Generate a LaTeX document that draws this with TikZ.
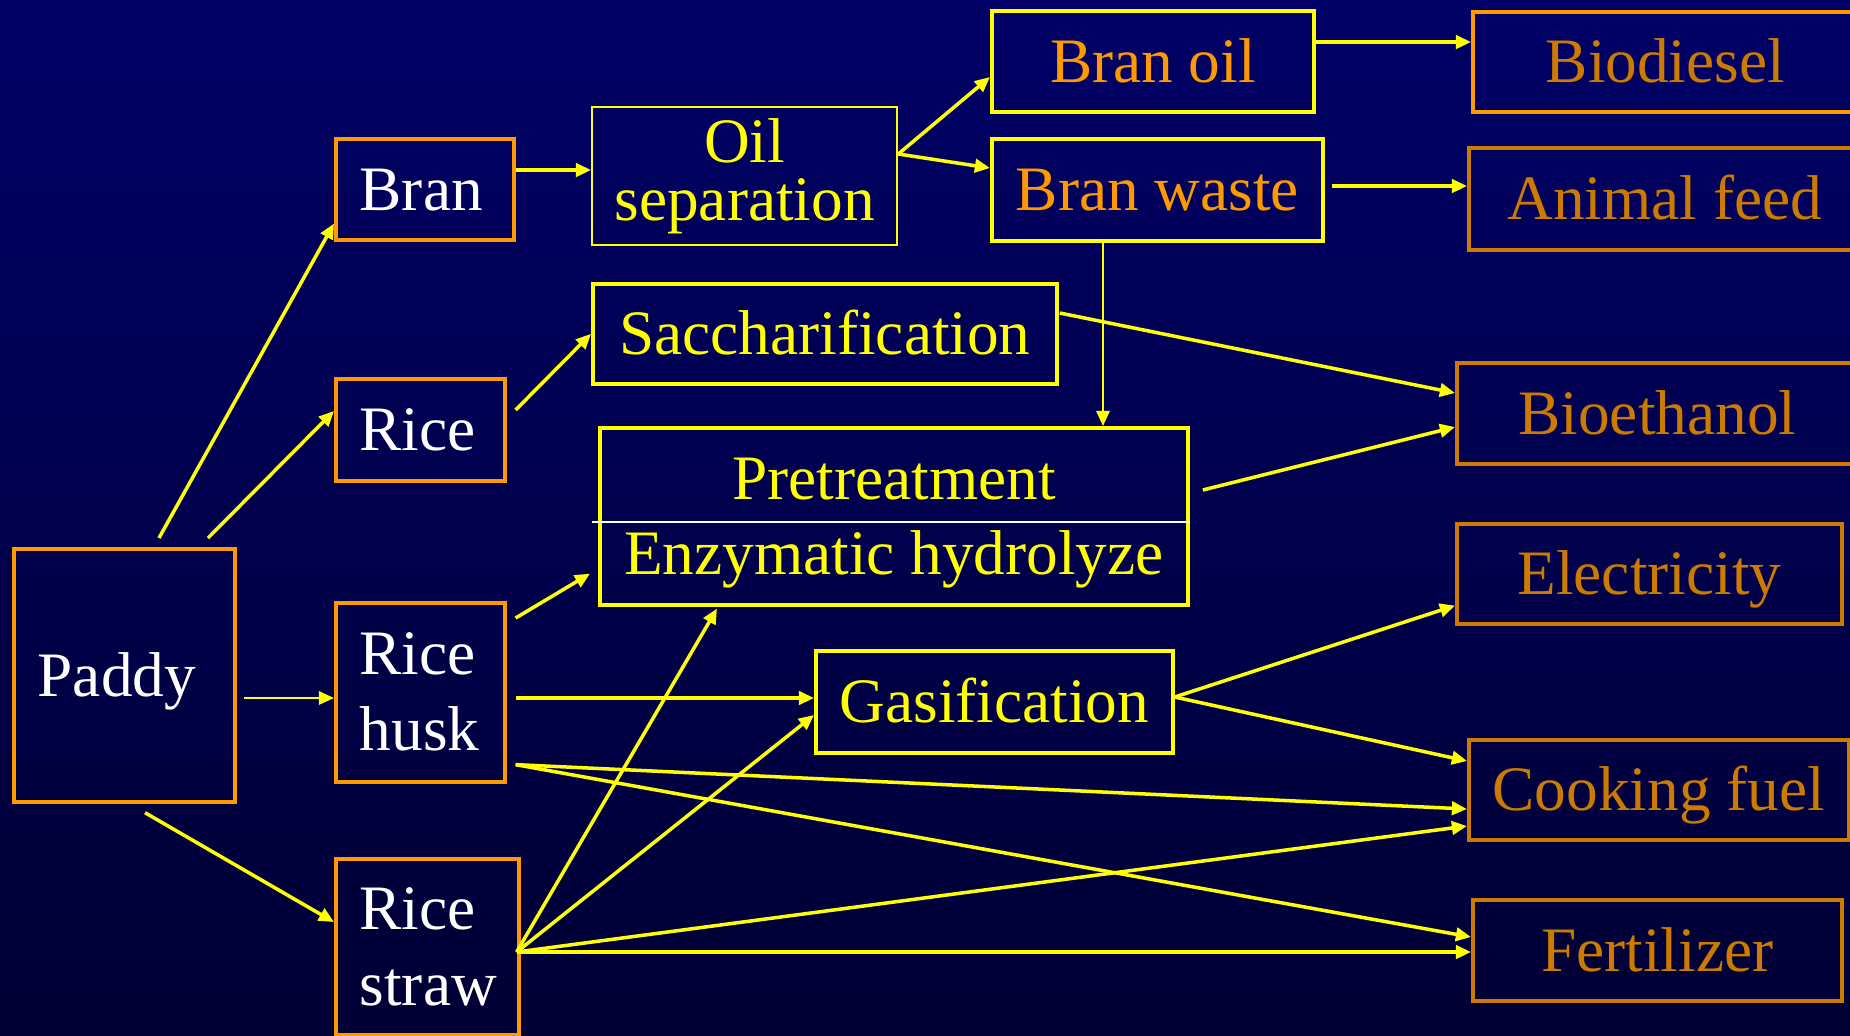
\documentclass[tikz,border=0pt]{standalone}
\usepackage{fontspec}
\setmainfont{Liberation Serif}
\usepackage{tikz}
\usetikzlibrary{calc,arrows.meta}
\definecolor{navytop}{RGB}{0,0,102}
\definecolor{navybot}{RGB}{0,0,52}
\definecolor{yel}{RGB}{255,255,0}
\definecolor{orng}{RGB}{255,153,0}
\definecolor{dorng}{RGB}{204,122,0}
\newcommand{\bigfont}{\fontsize{18}{21.6}\selectfont}
\def\boxline{1pt}
\def\srcsep{0.24cm}

\tikzset{
  box/.style={draw, rectangle, inner sep=0pt, anchor=north west, line width=\boxline, font=\bigfont},
  srcbox/.style={box, draw=orng, text=white, align=left, inner xsep=\srcsep},
  stepbox/.style={box, draw=yel, text=yel, align=center},
  prodbox/.style={box, draw=dorng, text=dorng},
  oneline/.style={text height=0.42cm, text depth=0pt},
  flow/.style={yel, line width=1pt, -{Triangle[length=4.3pt,width=3.8pt]}},
  thinflow/.style={flow, line width=0.6pt}
}

\begin{document}
\begin{tikzpicture}[x=0.01cm,y=-0.01cm]

% BACKGROUND
\useasboundingbox (0,0) rectangle (1850,1035);
\fill[top color=navytop, bottom color=navybot] (0,0) rectangle (1850,1035);

% RAW MATERIALS
\node[srcbox, oneline, text width=1.73cm, minimum width=2.21cm, minimum height=2.53cm] (paddy) at (12,547) {Paddy};
\node[srcbox, oneline, text width=1.30cm, minimum width=1.78cm, minimum height=1.01cm] (bran) at (334,137) {Bran};
\node[srcbox, oneline, text width=1.21cm, minimum width=1.69cm, minimum height=1.02cm] (rice) at (334,377) {Rice};
\node[srcbox, text width=1.21cm, minimum width=1.69cm, minimum height=1.79cm] (husk) at (334,601) {Rice\\husk};
\node[srcbox, text width=1.35cm, minimum width=1.83cm, minimum height=1.76cm] (straw) at (334,857) {Rice\\straw};

% PROCESSES
\node[stepbox, line width=0.6pt, font=\fontsize{18}{16.5}\selectfont, minimum width=3.05cm, minimum height=1.38cm] (oilsep) at (591,106) {Oil\\separation};
\node[stepbox, oneline, minimum width=4.64cm, minimum height=1.00cm] (sacch) at (591,282) {Saccharification};
\node[stepbox, minimum width=5.88cm, minimum height=1.77cm] (pretreat) at (598,426) {\rule{0pt}{0.55cm}Pretreatment\\Enzymatic hydrolyze};
\draw[white, line width=0.7pt] ($(pretreat.north west)+(-6,96)$) -- ($(pretreat.north east)+(0,96)$);
\node[stepbox, oneline, minimum width=3.57cm, minimum height=1.02cm] (gasif) at (814,649) {Gasification};
\node[stepbox, oneline, text=orng, minimum width=3.22cm, minimum height=1.01cm] (branoil) at (990,9) {Bran oil};
\node[stepbox, oneline, text=orng, minimum width=3.31cm, minimum height=1.02cm] (branwaste) at (990,137) {Bran waste};

% PRODUCTS
\node[prodbox, oneline, draw=orng, minimum width=3.85cm, minimum height=1.00cm] (biodiesel) at (1471,10) {Biodiesel};
\node[prodbox, oneline, minimum width=3.92cm, minimum height=1.02cm] (animal) at (1467,146) {Animal feed};
\node[prodbox, oneline, minimum width=4.01cm, minimum height=1.01cm] (bioeth) at (1455,361) {Bioethanol};
\node[prodbox, oneline, minimum width=3.85cm, minimum height=1.00cm] (elec) at (1455,522) {Electricity};
\node[prodbox, oneline, minimum width=3.80cm, minimum height=1.00cm] (cook) at (1467,738) {Cooking fuel};
\node[prodbox, oneline, minimum width=3.69cm, minimum height=1.01cm] (fert) at (1471,898) {Fertilizer};

% PADDY
\draw[flow] ($(paddy.north west)+(147,-9)$) -- ($(bran.south west)+(0,-18)$);
\draw[flow] ($(paddy.north west)+(196,-9)$) -- ($(rice.north west)+(0,34)$);
\draw[thinflow] ($(paddy.north east)+(7,151)$) -- ($(husk.north west)+(0,97)$);
\draw[flow] ($(paddy.south west)+(133,9)$) -- ($(straw.north west)+(0,65)$);

% BRAN AND RICE
\draw[flow] ($(bran.north east)+(0,33)$) -- ($(oilsep.north west)+(0,64)$);
\draw[flow] ($(rice.north east)+(9,33)$) -- (sacch.west);
\draw[flow] ($(oilsep.north east)+(0,48)$) -- ($(branoil.north west)+(0,68)$);
\draw[flow] ($(oilsep.north east)+(0,48)$) -- ($(branwaste.north west)+(0,31)$);
\draw[flow] ($(branoil.north east)+(0,33)$) -- ($(biodiesel.north west)+(0,32)$);
\draw[flow] ($(branwaste.north east)+(7,49)$) -- ($(animal.north west)+(0,40)$);
\draw[thinflow] ($(branwaste.south west)+(113,-4)$) -- ($(pretreat.north west)+(505,0)$);
\draw[flow] ($(sacch.north east)+(1,31)$) -- ($(bioeth.north west)+(0,32)$);
\draw[flow] ($(pretreat.north east)+(13,64)$) -- ($(bioeth.north west)+(0,66)$);

% RICE HUSK
\draw[flow] ($(husk.north east)+(9,17)$) -- ($(pretreat.south west)+(-8,-33)$);
\draw[flow] ($(husk.north east)+(9,97)$) -- ($(gasif.north west)+(0,49)$);
\draw[flow] ($(husk.south east)+(9,-19)$) -- ($(cook.north west)+(0,71)$);
\draw[flow] ($(husk.south east)+(9,-19)$) -- ($(fert.north west)+(0,39)$);

% RICE STRAW
\draw[flow] ($(straw.north east)+(-4,95)$) -- ($(pretreat.south west)+(119,2)$);
\draw[flow] ($(straw.north east)+(-4,95)$) -- ($(gasif.north west)+(0,66)$);
\draw[flow] ($(straw.north east)+(-4,95)$) -- ($(cook.north west)+(0,88)$);
\draw[flow] ($(straw.north east)+(-4,95)$) -- ($(fert.north west)+(0,54)$);

% GASIFICATION
\draw[flow] ($(gasif.north east)+(0,48)$) -- ($(elec.south west)+(0,-20)$);
\draw[flow] ($(gasif.north east)+(0,48)$) -- ($(cook.north west)+(0,23)$);

\end{tikzpicture}
\end{document}
